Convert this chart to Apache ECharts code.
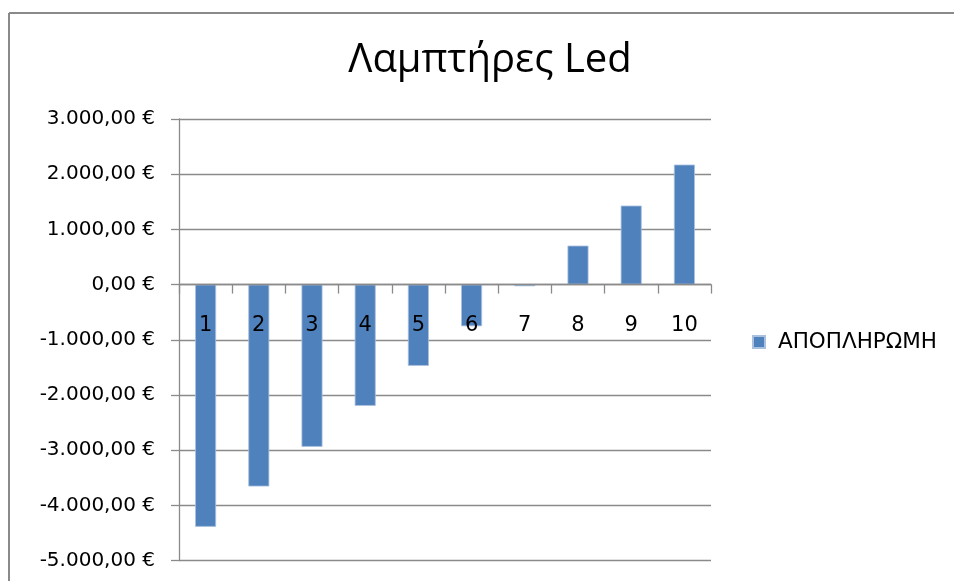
<!DOCTYPE html>
<html>
<head>
<meta charset="utf-8">
<style>
  html, body { margin: 0; padding: 0; background: #ffffff; overflow: hidden; }
  #chart { width: 954px; height: 581px; }
</style>
<script src="https://cdn.jsdelivr.net/npm/echarts@6/dist/echarts.min.js"></script>
</head>
<body>
<div id="chart"></div>
<script>
// Years of the LED lamp investment and the cumulative payback per year (€)
const categories = ['1', '2', '3', '4', '5', '6', '7', '8', '9', '10'];
const seriesName = 'ΑΠΟΠΛΗΡΩΜΗ';
const payback = [-4389, -3659, -2940, -2198, -1473, -755, -30, 706, 1431, 2174];
const chartTitle = 'Λαμπτήρες Led';

// Value axis range
const yMin = -5000;
const yMax = 3000;
const yStep = 1000;

// Greek-style currency: 3.000,00 €
function euro(v) {
  const neg = v < 0;
  const parts = Math.abs(v).toFixed(2).split('.');
  const intPart = parts[0].replace(/\B(?=(\d{3})+(?!\d))/g, '.');
  return (neg ? '-' : '') + intPart + ',' + parts[1] + ' €';
}

const gridGray = '#8a8a8a';
const labelFont = 'DejaVu Sans';
const gridBottom = 20.5;
const chartHeight = 581;

const chart = echarts.init(document.getElementById('chart'));
chart.setOption({
  animation: false,
  backgroundColor: '#ffffff',
  title: {
    text: chartTitle,
    left: 490,
    top: 41,
    padding: 0,
    textAlign: 'center',
    textStyle: {
      fontFamily: 'Open Sans',
      fontSize: 40,
      fontWeight: 'normal',
      color: '#000000'
    }
  },
  legend: {
    left: 752,
    top: 331,
    padding: 0,
    itemWidth: 12,
    itemHeight: 12,
    icon: 'rect',
    data: [seriesName],
    textStyle: {
      fontFamily: labelFont,
      fontSize: 21.5,
      lineHeight: 20,
      color: '#000000',
      padding: [0, 0, 0, 8]
    }
  },
  // chart-area frame: left and top edges, running off the page
  graphic: [{
    type: 'line',
    shape: { x1: 9, y1: 13, x2: 954, y2: 13 },
    style: { stroke: '#8a8a8a', lineWidth: 2 },
    silent: true,
    z: -1
  }, {
    type: 'line',
    shape: { x1: 9, y1: 13, x2: 9, y2: 581 },
    style: { stroke: '#8a8a8a', lineWidth: 2 },
    silent: true,
    z: -1
  }],
  grid: {
    left: 179,
    right: 243,
    top: 119,
    bottom: gridBottom,
    containLabel: false,
    outerBoundsMode: 'none'
  },
  xAxis: {
    type: 'category',
    data: categories,
    position: 'bottom',
    offset: 0,
    z: 10,
    boundaryGap: true,
    axisLine: { onZero: false, lineStyle: { color: gridGray, width: 1.3 } },
    axisTick: { show: true, length: 9, alignWithLabel: false, lineStyle: { color: gridGray, width: 1.3 } },
    axisLabel: {
      margin: 30,
      fontFamily: labelFont,
      fontSize: 21,
      color: '#000000'
    },
    splitLine: { show: false }
  },
  yAxis: {
    type: 'value',
    min: yMin,
    max: yMax,
    interval: yStep,
    axisLine: { show: true, lineStyle: { color: gridGray, width: 1.3 } },
    axisTick: { show: true, length: 8, lineStyle: { color: gridGray, width: 1.3 } },
    axisLabel: {
      margin: 24,
      fontFamily: labelFont,
      fontSize: 20,
      color: '#000000',
      formatter: euro
    },
    splitLine: { show: true, lineStyle: { color: gridGray, width: 1.3 } }
  },
  series: [{
    name: seriesName,
    type: 'bar',
    data: payback,
    barWidth: 21,
    itemStyle: {
      color: '#4f81bd',
      borderColor: '#a9c0de',
      borderWidth: 0.8
    }
  }]
});

// Lift the category axis (line, ticks and labels) up to the zero value line
const zeroY = chart.convertToPixel({ yAxisIndex: 0 }, 0);
const bottomY = chartHeight - gridBottom;
chart.setOption({ xAxis: { offset: zeroY - bottomY } });
</script>
</body>
</html>
